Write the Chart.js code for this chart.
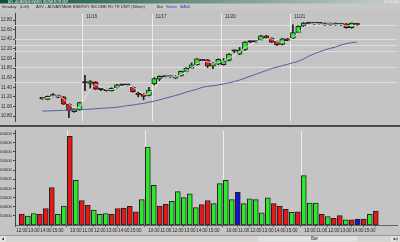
<!DOCTYPE html>
<html><head><meta charset="utf-8">
<script src="https://cdn.jsdelivr.net/npm/chart.js@4"></script>
<style>
html,body{margin:0;padding:0;width:400px;height:242px;overflow:hidden;background:#c4c4c4;position:relative}
canvas{position:absolute;left:0;display:block}
#hdr{top:0}
#pc{top:10px}
#sep{position:absolute;left:0;top:125px;width:400px;height:2px;background:#4a4a4a}
#vc{top:127px}
#ft{top:235px}
</style></head>
<body>
<canvas id="hdr" width="400" height="10"></canvas>
<canvas id="pc" width="400" height="115"></canvas>
<div id="sep"></div>
<canvas id="vc" width="400" height="108"></canvas>
<canvas id="ft" width="400" height="7"></canvas>
<script>
// ---------- data ----------
const sessionTimes = ['09:30','10:00','10:30','11:00','11:30','12:00','12:30','13:00','13:30','14:00','14:30','15:00','15:30'];
const barTimes = sessionTimes.slice(5).concat(sessionTimes, sessionTimes, sessionTimes, sessionTimes);
const dayLabels = ['11/16','11/17','11/20','11/21'];
const dayStart = [8, 21, 34, 47];

const open = [11.16,11.15,11.21,11.23,11.20,11.05,10.89,10.93,11.49,11.48,
  11.51,11.35,11.33,11.33,11.39,11.44,11.44,11.40,11.28,11.26,
  11.23,11.47,11.57,11.61,11.61,11.59,11.635,11.73,11.80,11.87,
  11.97,11.97,11.84,11.88,11.87,11.96,12.15,12.09,12.18,12.34,
  12.34,12.38,12.47,12.42,12.355,12.29,12.41,12.42,12.54,12.67,
  12.75,12.72,12.72,12.735,12.70,12.735,12.70,12.72,12.64,12.72];
const close = [11.16,11.21,11.25,11.19,11.05,10.92,10.95,11.08,11.49,11.52,
  11.36,11.35,11.33,11.38,11.45,11.44,11.44,11.31,11.24,11.21,
  11.34,11.58,11.63,11.61,11.61,11.63,11.73,11.80,11.87,11.99,
  11.95,11.84,11.91,11.98,11.95,12.09,12.15,12.18,12.34,12.34,
  12.34,12.47,12.42,12.34,12.28,12.41,12.37,12.54,12.67,12.735,
  12.72,12.72,12.72,12.70,12.735,12.70,12.70,12.64,12.735,12.70];
const high = [11.18,11.22,11.27,11.24,11.21,11.06,10.96,11.09,11.65,11.54,
  11.52,11.37,11.34,11.39,11.46,11.45,11.45,11.41,11.30,11.27,
  11.40,11.60,11.64,11.62,11.62,11.64,11.74,11.81,11.91,12.00,
  11.98,11.98,11.92,11.99,12.00,12.10,12.18,12.23,12.35,12.36,
  12.35,12.48,12.48,12.43,12.36,12.42,12.42,12.70,12.68,12.75,
  12.76,12.73,12.73,12.74,12.74,12.74,12.71,12.73,12.74,12.73];
const low = [11.15,11.14,11.20,11.18,11.04,10.77,10.88,10.92,11.33,11.38,
  11.35,11.33,11.32,11.32,11.38,11.43,11.43,11.30,11.20,11.14,
  11.22,11.45,11.53,11.60,11.60,11.58,11.63,11.72,11.79,11.86,
  11.94,11.81,11.79,11.87,11.86,11.95,12.12,12.08,12.17,12.33,
  12.33,12.37,12.41,12.33,12.27,12.28,12.36,12.41,12.53,12.66,
  12.71,12.71,12.71,12.69,12.69,12.69,12.69,12.63,12.63,12.69];
const ma34 = [10.905,10.908,10.912,10.916,10.92,10.924,10.929,10.933,10.939,10.946,
  10.954,10.961,10.968,10.975,10.985,11.00,11.02,11.03,11.05,11.065,
  11.09,11.11,11.14,11.17,11.20,11.23,11.26,11.30,11.33,11.36,
  11.40,11.42,11.43,11.45,11.47,11.49,11.52,11.55,11.59,11.63,
  11.67,11.71,11.75,11.79,11.82,11.85,11.88,11.91,11.94,11.99,
  12.05,12.10,12.14,12.18,12.21,12.24,12.28,12.31,12.33,12.34];
const maShort = [11.17,11.18,11.21,11.22,11.16,11.05,10.97,10.98,11.17,11.36,
  11.46,11.41,11.35,11.35,11.39,11.42,11.44,11.40,11.33,11.25,
  11.26,11.38,11.52,11.61,11.62,11.62,11.66,11.72,11.80,11.89,
  11.94,11.93,11.90,11.91,11.95,12.01,12.06,12.14,12.22,12.29,
  12.34,12.38,12.41,12.41,12.35,12.34,12.35,12.44,12.53,12.65,
  12.71,12.73,12.72,12.71,12.72,12.71,12.71,12.68,12.69,12.69];
const volume = [60000,49000,63000,58000,90000,205000,58000,104000,484000,244000,
  134000,108000,81000,58000,63000,58000,90000,93000,102000,72000,
  139000,426000,217000,104000,113000,130000,182000,150000,170000,95000,
  111000,134000,117000,226000,244000,139000,178000,117000,143000,139000,
  67000,148000,117000,102000,85000,69000,72000,270000,120000,120000,
  58000,46000,37000,51000,28000,28000,32000,33000,58000,76000];
const volumeDir = ['d','u','u','d','d','d','u','u','d','u',
  'd','d','u','u','u','d','d','d','d','d',
  'u','u','u','d','d','u','u','u','u','u',
  'd','d','u','u','u','u','f','u','u','u',
  'u','u','d','d','d','u','d','u','u','u',
  'd','u','d','d','u','d','f','d','u','d'];
const priceTicks = [10.8,11.0,11.2,11.4,11.6,11.8,12.0,12.2,12.4,12.6,12.8];
const volumeTicks = [50000,100000,150000,200000,250000,300000,350000,400000,450000,500000];
const levelLines = [12.70,12.40,12.27,12.16,11.83,11.50];

// ---------- styling ----------
const FONT = '"Liberation Sans", Arial, sans-serif';
const TXT = '#262626';
const UP = '#2ee62e', DOWN = '#e81818', FLAT = '#1414c8';
const XMAX = 61.4;

function separatorsPlugin(withDates){
  return {
    id:'seps'+(withDates?'p':'v'),
    beforeDatasetsDraw(chart){
      const {ctx, chartArea:a, scales:{x, y}} = chart;
      ctx.save();
      ctx.lineWidth = 1;
      if (withDates){
        ctx.strokeStyle = '#dedede';
        levelLines.forEach(v=>{
          const py = Math.round(y.getPixelForValue(v)) + 0.5;
          ctx.beginPath(); ctx.moveTo(a.left, py); ctx.lineTo(a.right, py); ctx.stroke();
        });
      }
      ctx.strokeStyle = '#ececec';
      dayStart.forEach(s=>{
        const px = Math.round(x.getPixelForValue(s - 0.5)) + 0.5;
        ctx.beginPath(); ctx.moveTo(px, a.top); ctx.lineTo(px, a.bottom); ctx.stroke();
      });
      ctx.restore();
    },
    afterDraw(chart){
      if (!withDates) return;
      const {ctx, chartArea:a, scales:{x}} = chart;
      ctx.save();
      ctx.font = '4.5px ' + FONT; ctx.fillStyle = TXT; ctx.textBaseline = 'middle';
      dayStart.forEach((s,k)=>{
        ctx.fillText(dayLabels[k], x.getPixelForValue(s - 0.5) + 4, a.top + 3.5);
      });
      ctx.restore();
    }
  };
}

function candleColor(i){
  if (close[i] > open[i]) return UP;
  if (close[i] < open[i]) return DOWN;
  return '#1c1c1c';
}

new Chart(document.getElementById('pc'), {
  type:'bar',
  data:{datasets:[
    {type:'line', data: ma34.map((v,i)=>({x:i, y:v})), borderColor:'#5a5c9e', borderWidth:1, pointRadius:0, tension:0},
    {type:'line', data: maShort.map((v,i)=>({x:i, y:v})), borderColor:'rgba(236,236,236,0.8)', borderWidth:1, pointRadius:0, tension:0},
    {type:'bar', data: open.map((o,i)=>({x:i, y:[o, close[i]]})),
      backgroundColor: c=>candleColor(c.dataIndex), borderColor:'#1c1c1c', borderWidth:1, borderSkipped:false,
      barThickness:5, minBarLength:1.5, grouped:false, clip:false},
    {type:'bar', data: low.map((l,i)=>({x:i, y:[l, high[i]]})),
      backgroundColor:'#1c1c1c', borderWidth:0, barThickness:1, grouped:false, clip:false}
  ]},
  options:{
    responsive:false, animation:false, devicePixelRatio:1,
    layout:{padding:{top:0,right:3,bottom:1,left:0}},
    plugins:{legend:{display:false}, tooltip:{enabled:false}},
    scales:{
      x:{type:'linear', min:0, max:XMAX, display:false},
      y:{type:'linear', position:'left', min:10.692, max:12.932,
        afterFit:s=>{s.width = 15;},
        afterBuildTicks:s=>{s.ticks = priceTicks.map(v=>({value:v}));},
        ticks:{font:{size:4.5, family:FONT}, color:TXT, padding:1, callback:v=>Number(v).toFixed(2)},
        grid:{drawOnChartArea:false, tickLength:2, color:'#444'},
        border:{color:'#444'}}
    }
  },
  plugins:[separatorsPlugin(true)]
});

new Chart(document.getElementById('vc'), {
  type:'bar',
  data:{datasets:[
    {data: volume.map((v,i)=>({x:i, y:v})),
      backgroundColor: c=>({u:UP, d:DOWN, f:FLAT})[volumeDir[c.dataIndex]],
      borderColor:'#222', borderWidth:1, borderSkipped:false, barThickness:5, clip:false}
  ]},
  options:{
    responsive:false, animation:false, devicePixelRatio:1,
    layout:{padding:{top:1,right:3,bottom:0,left:0}},
    plugins:{legend:{display:false}, tooltip:{enabled:false}},
    scales:{
      x:{type:'linear', min:0, max:XMAX,
        afterFit:s=>{s.height = 10;},
        afterBuildTicks:s=>{s.ticks = barTimes.map((t,i)=>({value:i, t})).filter(o=>o.t.endsWith(':00')).map(o=>({value:o.value}));},
        ticks:{font:{size:4.5, family:FONT}, color:TXT, padding:1, maxRotation:0, autoSkip:false, callback:v=>barTimes[v]},
        grid:{drawOnChartArea:false, tickLength:2, color:'#555'},
        border:{color:'#666'}},
      y:{type:'linear', position:'left', min:0, max:516000,
        afterFit:s=>{s.width = 15;},
        afterBuildTicks:s=>{s.ticks = volumeTicks.map(v=>({value:v}));},
        ticks:{font:{size:4.3, family:FONT}, color:TXT, padding:1, callback:v=>String(v)},
        grid:{drawOnChartArea:false, tickLength:2, color:'#444'},
        border:{color:'#444'}}
    }
  },
  plugins:[separatorsPlugin(false)]
});

// ---------- window header ----------
(function(){
  const c = document.getElementById('hdr').getContext('2d');
  c.fillStyle = '#c8c8c8'; c.fillRect(0,0,400,10);
  const g = c.createLinearGradient(0,0,400,0);
  g.addColorStop(0,'#0b5238'); g.addColorStop(0.5,'#6f9484'); g.addColorStop(1,'#c9cfcc');
  c.fillStyle = g; c.fillRect(0,0,400,3.5);
  c.fillStyle = '#ffffff'; c.font = '3px ' + FONT; c.textBaseline = 'middle';
  c.fillText('AXV - ADVANTAGE ENERGY INCOME FD TR UNIT', 8, 1.8, 60);
  c.fillStyle = '#d8d8d8';
  [384,389,394].forEach(x=>{c.fillRect(x,0.5,4,2.6);});
  c.font = '4px ' + FONT; c.fillStyle = TXT;
  c.fillText('Intraday', 2, 6.7, 15);
  c.fillText('(Left)', 20, 6.7, 9);
  c.fillText('AXV - ADVANTAGE ENERGY INCOME FD TR UNIT (30min)', 36, 6.7, 116);
  c.fillText('Bar', 157, 6.7, 6);
  c.fillStyle = '#2030c0';
  c.fillText('Volume', 166, 6.7, 11);
  c.fillText('MA34', 180, 6.7, 10);
})();

// ---------- bottom scroll bar ----------
(function(){
  const c = document.getElementById('ft').getContext('2d');
  c.fillStyle = '#d6d4d0'; c.fillRect(0,0,400,7);
  c.fillStyle = '#9a9a9a'; c.fillRect(0,0,400,1);
  c.fillStyle = '#ececec'; c.fillRect(0,1.5,6,5); c.fillRect(391,1.5,8,5);
  c.fillStyle = '#e2e2e2'; c.fillRect(258,1.5,99,5);
  c.fillStyle = '#333';
  c.beginPath(); c.moveTo(1.5,4); c.lineTo(4,2.5); c.lineTo(4,5.5); c.fill();
  c.beginPath(); c.moveTo(396,4); c.lineTo(393.5,2.5); c.lineTo(393.5,5.5); c.fill();
  c.fillRect(396.5,2.5,1,3);
  c.font = '4.5px ' + FONT; c.textBaseline = 'middle';
  c.fillText('Bar', 311, 4.2);
})();
</script>
</body></html>
